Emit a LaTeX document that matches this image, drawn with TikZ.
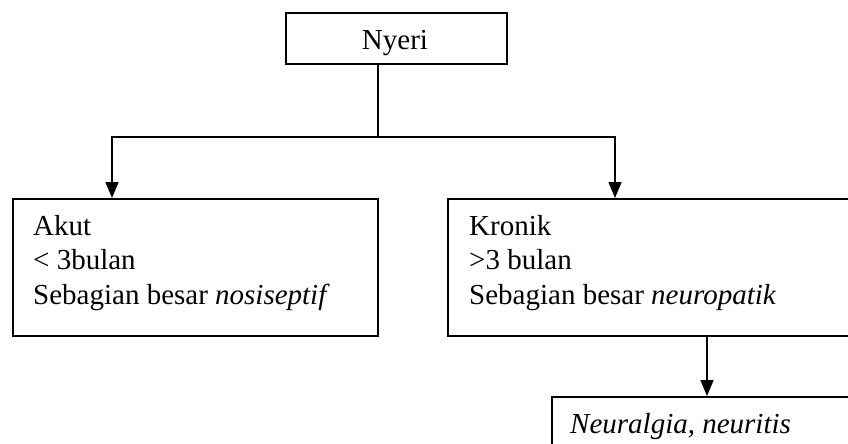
\documentclass[tikz,border=0pt]{standalone}
\usepackage{fontspec}
\setmainfont{Liberation Serif}
\usetikzlibrary{arrows.meta}
\begin{document}
\begin{tikzpicture}[x=1pt,y=-1pt,
  box/.style={draw=black, line width=1.6pt, rectangle, inner sep=0pt, anchor=north west},
  txt/.style={anchor=base west, inner sep=0pt, font=\fontsize{29pt}{35pt}\selectfont},
  conn/.style={draw=black, line width=1.6pt},
  arr/.style={conn, -{Triangle[length=16pt,width=13pt]}}]
\useasboundingbox (0,0) rectangle (848,444);
\clip (0,0) rectangle (848,444);
% boxes
\node[box, minimum width=221pt, minimum height=51pt] (nyeri) at (285,12) {};
\node[box, minimum width=365pt, minimum height=137pt] (akut) at (12,198) {};
\node[box, minimum width=430pt, minimum height=137pt] (kronik) at (447,198) {};
\node[box, minimum width=320pt, minimum height=80pt] (neur) at (551,396) {};
% texts
\node[txt, anchor=base] (nyeriT) at (395,50) {Nyeri};
\node[txt] (ak1) at (33,235) {Akut};
\node[txt] (ak2) at (33,269) {< 3bulan};
\node[txt] (ak3) at (33,304) {Sebagian besar \textit{nosiseptif}};
\node[txt] (kr1) at (469,235) {Kronik};
\node[txt] (kr2) at (469,269) {>3 bulan};
\node[txt] (kr3) at (469,304) {Sebagian besar \textit{neuropatik}};
\node[txt] (ne1) at (570,433) {\textit{Neuralgia, neuritis}};
% connector coordinates
\coordinate (j) at (378,137);
\coordinate (ax) at (112,0);
\coordinate (kx) at (615,0);
\coordinate (nx) at (707,0);
\draw[conn] (nyeri.south -| j) -- (j);
\draw[arr] (j) -| (akut.north -| ax);
\draw[arr] (j) -| (kronik.north -| kx);
\draw[arr] (kronik.south -| nx) -- (neur.north -| nx);
\end{tikzpicture}
\end{document}
